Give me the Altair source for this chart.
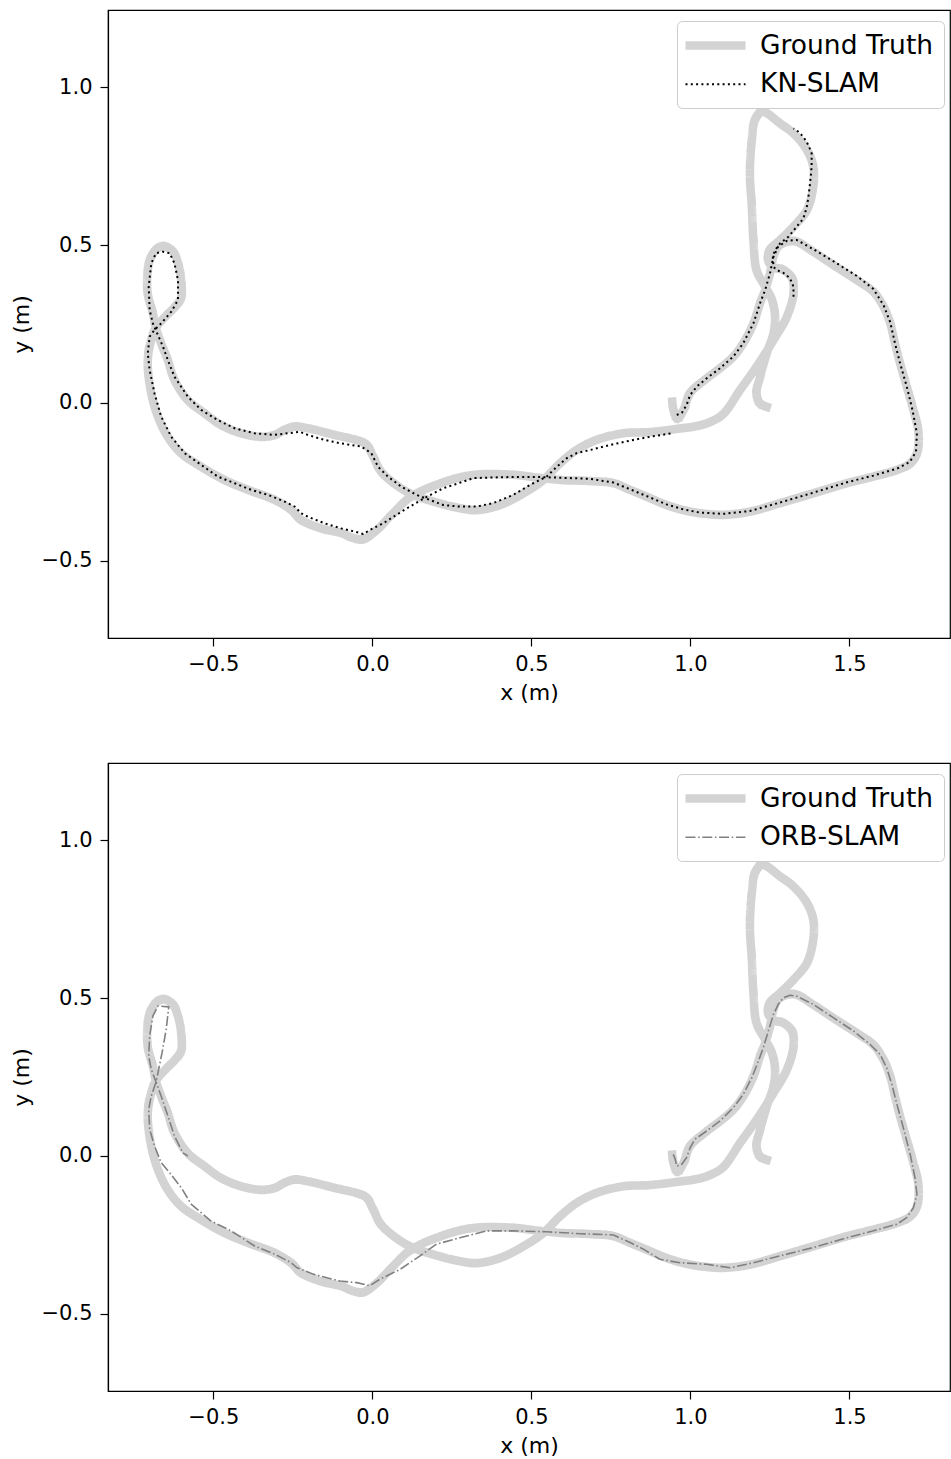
import altair as alt
import pandas as pd

# ---------------- data (x, y in metres) ----------------
gt_x = [0.943, 0.947, 0.959, 0.978, 0.999, 1.051, 1.093, 1.135, 1.166, 1.198, 1.219, 1.235, 1.250, 1.261, 1.276, 1.303, 1.334,
        1.386, 1.449, 1.523, 1.575, 1.607, 1.628, 1.643, 1.659, 1.680, 1.701, 1.717, 1.712, 1.691, 1.649, 1.575, 1.492, 1.386,
        1.282, 1.187, 1.103, 1.030, 0.978, 0.925, 0.863, 0.810, 0.758, 0.684, 0.600, 0.517, 0.454, 0.370, 0.317, 0.265, 0.202,
        0.150, 0.108, 0.055, 0.014, -0.029, -0.061, -0.098, -0.161, -0.224, -0.255, -0.307, -0.391, -0.464, -0.538, -0.601,
        -0.643, -0.674, -0.695, -0.706, -0.699, -0.681, -0.652, -0.621, -0.602, -0.601, -0.611, -0.627, -0.653, -0.674, -0.695,
        -0.706, -0.706, -0.690, -0.680, -0.664, -0.643, -0.622, -0.580, -0.527, -0.475, -0.412, -0.349, -0.307, -0.276, -0.244,
        -0.203, -0.119, -0.045, -0.018, 0.003, 0.024, 0.055, 0.118, 0.192, 0.275, 0.328, 0.401, 0.475, 0.537, 0.590, 0.642,
        0.705, 0.789, 0.873, 0.957, 1.020, 1.062, 1.103, 1.156, 1.208, 1.261, 1.303, 1.324, 1.319, 1.292, 1.261, 1.245, 1.250,
        1.282, 1.324, 1.366, 1.386, 1.386, 1.366, 1.324, 1.282, 1.240, 1.224, 1.203, 1.193, 1.187, 1.193, 1.198, 1.208, 1.235,
        1.256, 1.266, 1.261, 1.240, 1.219, 1.208, 1.219, 1.240]
gt_y = [0.004, -0.022, -0.048, -0.022, 0.031, 0.078, 0.110, 0.147, 0.189, 0.252, 0.316, 0.358, 0.410, 0.463, 0.495, 0.510, 0.510,
        0.479, 0.437, 0.389, 0.352, 0.305, 0.252, 0.189, 0.126, 0.052, -0.022, -0.096, -0.159, -0.191, -0.212, -0.233, -0.254,
        -0.286, -0.317, -0.344, -0.354, -0.349, -0.339, -0.323, -0.297, -0.275, -0.254, -0.247, -0.244, -0.236, -0.228, -0.225,
        -0.228, -0.238, -0.259, -0.281, -0.307, -0.360, -0.402, -0.431, -0.427, -0.412, -0.397, -0.370, -0.339, -0.307, -0.275,
        -0.244, -0.202, -0.159, -0.107, -0.043, 0.031, 0.126, 0.184, 0.237, 0.272, 0.304, 0.332, 0.389, 0.442, 0.479, 0.495,
        0.490, 0.463, 0.421, 0.347, 0.284, 0.236, 0.189, 0.136, 0.073, 0.009, -0.033, -0.070, -0.096, -0.107, -0.101, -0.085,
        -0.075, -0.080, -0.101, -0.119, -0.133, -0.170, -0.212, -0.244, -0.286, -0.312, -0.333, -0.339, -0.323, -0.286, -0.244,
        -0.191, -0.149, -0.117, -0.096, -0.092, -0.082, -0.073, -0.060, -0.035, 0.041, 0.115, 0.199, 0.273, 0.347, 0.395,
        0.421, 0.431, 0.453, 0.484, 0.516, 0.558, 0.611, 0.685, 0.748, 0.801, 0.853, 0.885, 0.917, 0.922, 0.896, 0.832, 0.727,
        0.621, 0.516, 0.421, 0.368, 0.326, 0.273, 0.221, 0.157, 0.083, 0.031, -0.001, -0.012]

# KN-SLAM: two tracked pieces
kn1_x = [0.957, 0.973, 0.988, 0.999, 1.020, 1.051, 1.093, 1.135, 1.166, 1.198, 1.219, 1.235, 1.250, 1.261, 1.276, 1.303, 1.334,
         1.386, 1.449, 1.523, 1.575, 1.607, 1.628, 1.643, 1.659, 1.680, 1.698, 1.712, 1.709, 1.689, 1.649, 1.575, 1.492, 1.386,
         1.282, 1.187, 1.103, 1.030, 0.978, 0.925, 0.863, 0.810, 0.758, 0.684, 0.600, 0.517, 0.454, 0.370, 0.317, 0.286, 0.223,
         0.171, 0.118, 0.076, 0.034, -0.008, -0.029, -0.055, -0.098, -0.150, -0.203, -0.224, -0.244, -0.276, -0.328, -0.381,
         -0.433, -0.486, -0.538, -0.590, -0.632, -0.664, -0.685, -0.700, -0.706, -0.700, -0.685, -0.664, -0.632, -0.611, -0.611,
         -0.622, -0.637, -0.658, -0.680, -0.695, -0.703, -0.700, -0.690, -0.674, -0.658, -0.643, -0.622, -0.580, -0.538, -0.486,
         -0.433, -0.370, -0.307, -0.265, -0.229, -0.203, -0.150, -0.098, -0.035, -0.003, 0.018, 0.049, 0.091, 0.139, 0.181,
         0.223, 0.275, 0.328, 0.380, 0.443, 0.496, 0.548, 0.580, 0.611, 0.642, 0.684, 0.747, 0.820, 0.873, 0.941]
kn1_y = [-0.038, -0.031, -0.006, 0.025, 0.052, 0.078, 0.110, 0.147, 0.189, 0.252, 0.316, 0.358, 0.410, 0.463, 0.495, 0.513, 0.516,
         0.487, 0.449, 0.402, 0.361, 0.310, 0.256, 0.189, 0.126, 0.052, -0.022, -0.096, -0.155, -0.187, -0.208, -0.230, -0.251,
         -0.284, -0.315, -0.342, -0.351, -0.347, -0.337, -0.321, -0.295, -0.273, -0.252, -0.240, -0.237, -0.234, -0.234, -0.236,
         -0.238, -0.249, -0.270, -0.297, -0.328, -0.354, -0.381, -0.402, -0.415, -0.407, -0.397, -0.381, -0.360, -0.349, -0.328,
         -0.312, -0.291, -0.275, -0.254, -0.233, -0.196, -0.159, -0.107, -0.043, 0.031, 0.104, 0.157, 0.210, 0.231, 0.252, 0.289,
         0.326, 0.389, 0.442, 0.474, 0.479, 0.474, 0.442, 0.368, 0.294, 0.252, 0.215, 0.178, 0.136, 0.083, 0.020, -0.022, -0.054,
         -0.080, -0.096, -0.101, -0.096, -0.091, -0.101, -0.117, -0.128, -0.138, -0.159, -0.202, -0.233, -0.265, -0.291, -0.307,
         -0.323, -0.328, -0.328, -0.317, -0.291, -0.259, -0.233, -0.202, -0.175, -0.159, -0.149, -0.133, -0.117, -0.107, -0.096]
kn2_x = [1.324, 1.324, 1.313, 1.292, 1.271, 1.261, 1.259, 1.266, 1.282, 1.308, 1.334, 1.355, 1.366, 1.371, 1.376, 1.381, 1.381,
         1.371, 1.355, 1.339, 1.324]
kn2_y = [0.336, 0.368, 0.395, 0.412, 0.421, 0.431, 0.463, 0.484, 0.505, 0.526, 0.558, 0.584, 0.621, 0.653, 0.695, 0.748, 0.790,
         0.816, 0.843, 0.859, 0.869]

orb_x = [0.946, 0.952, 0.957, 0.973, 0.988, 0.999, 1.014, 1.051, 1.093, 1.135, 1.166, 1.193, 1.214, 1.229, 1.245, 1.261, 1.276,
         1.292, 1.313, 1.334, 1.386, 1.449, 1.512, 1.565, 1.596, 1.617, 1.633, 1.649, 1.669, 1.691, 1.706, 1.712, 1.701, 1.680,
         1.649, 1.575, 1.492, 1.386, 1.282, 1.198, 1.125, 1.051, 0.967, 0.904, 0.852, 0.810, 0.758, 0.653, 0.548, 0.443, 0.359,
         0.275, 0.202, 0.150, 0.087, 0.024, -0.008, -0.049, -0.102, -0.186, -0.238, -0.255, -0.307, -0.370, -0.444, -0.507,
         -0.569, -0.601, -0.637, -0.664, -0.685, -0.700, -0.703, -0.695, -0.680, -0.661, -0.648, -0.640, -0.674, -0.690, -0.700,
         -0.703, -0.695, -0.680, -0.664, -0.643, -0.622, -0.596, -0.580]
orb_y = [0.005, -0.010, -0.032, -0.026, -0.005, 0.026, 0.053, 0.079, 0.111, 0.153, 0.195, 0.248, 0.301, 0.343, 0.396, 0.448, 0.480,
         0.501, 0.509, 0.506, 0.480, 0.438, 0.396, 0.353, 0.322, 0.279, 0.227, 0.164, 0.090, 0.005, -0.069, -0.121, -0.164,
         -0.195, -0.216, -0.237, -0.259, -0.290, -0.316, -0.338, -0.354, -0.343, -0.338, -0.327, -0.295, -0.274, -0.250, -0.246,
         -0.240, -0.237, -0.237, -0.259, -0.279, -0.316, -0.359, -0.390, -0.411, -0.401, -0.396, -0.374, -0.353, -0.338, -0.311,
         -0.285, -0.237, -0.206, -0.153, -0.100, -0.053, -0.021, 0.032, 0.084, 0.148, 0.190, 0.234, 0.327, 0.401, 0.472, 0.475,
         0.443, 0.380, 0.316, 0.274, 0.234, 0.190, 0.127, 0.063, 0.010, 0.000]

x_ticks = [-0.5, 0.0, 0.5, 1.0, 1.5]
y_ticks = [-0.5, 0.0, 0.5, 1.0]
x_domain = [-0.831, 1.816]
y_domain = [-0.744, 1.244]


def frame(xs, ys, name, seg=0):
    return pd.DataFrame({"x": xs, "y": ys, "series": name, "seg": seg, "i": list(range(len(xs)))})


gt_df = frame(gt_x, gt_y, "Ground Truth")
kn_df = pd.concat([frame(kn1_x, kn1_y, "KN-SLAM", 0), frame(kn2_x, kn2_y, "KN-SLAM", 1)])
orb_df = frame(orb_x, orb_y, "ORB-SLAM")

W, H = 842, 628


def panel(est_df, est_name, est_color, dash, width):
    names = ["Ground Truth", est_name]
    enc = dict(
        x=alt.X("x:Q", title="x (m)", scale=alt.Scale(domain=x_domain, nice=False, zero=False),
                axis=alt.Axis(values=x_ticks, format=".1f", labelPadding=7, titlePadding=8)),
        y=alt.Y("y:Q", title="y (m)", scale=alt.Scale(domain=y_domain, nice=False, zero=False),
                axis=alt.Axis(values=y_ticks, format=".1f", labelPadding=8, titlePadding=8)),
        color=alt.Color("series:N", scale=alt.Scale(domain=names, range=["#d3d3d3", est_color]),
                        legend=alt.Legend(title=None)),
        strokeDash=alt.StrokeDash("series:N", scale=alt.Scale(domain=names, range=[[1, 0], dash]),
                                  legend=alt.Legend(title=None)),
        strokeWidth=alt.StrokeWidth("series:N", scale=alt.Scale(domain=names, range=[8.5, width]),
                                    legend=alt.Legend(title=None)),
        order=alt.Order("i:Q"),
        detail="seg:N",
    )
    gt = alt.Chart(gt_df).mark_line(strokeCap="square", strokeJoin="round", interpolate="catmull-rom").encode(**enc)
    est = alt.Chart(est_df).mark_line(strokeJoin="round").encode(**enc)
    return alt.layer(gt, est).properties(width=W, height=H)


top = panel(kn_df, "KN-SLAM", "black", [2, 3.3], 2.0)
bottom = panel(orb_df, "ORB-SLAM", "#808080", [10, 2.6, 1.6, 2.6], 1.6)

chart = (
    alt.vconcat(top, bottom, spacing=58)
    .resolve_scale(color="independent", strokeDash="independent", strokeWidth="independent")
    .configure(font="DejaVu Sans", padding={"left": 9, "top": 9, "right": 0, "bottom": 5})
    .configure_view(stroke="black", strokeWidth=1.2)
    .configure_axis(
        grid=False, domainColor="black", domainWidth=1.2, tickColor="black", tickWidth=1.2, tickSize=8,
        labelFontSize=21, labelColor="black", titleFontSize=22, titleFontWeight="normal", titleColor="black",
    )
    .configure_legend(
        orient="none", legendX=569, legendY=11, labelFontSize=26.5, labelColor="black", labelLimit=600,
        symbolType="M-1.6,0H4.4", symbolSize=400, fillColor="white", strokeColor="#cccccc", cornerRadius=5,
        padding=10, rowPadding=8, labelOffset=44,
    )
)

chart.save("out.html", embed_options={"renderer": "svg", "actions": False})
